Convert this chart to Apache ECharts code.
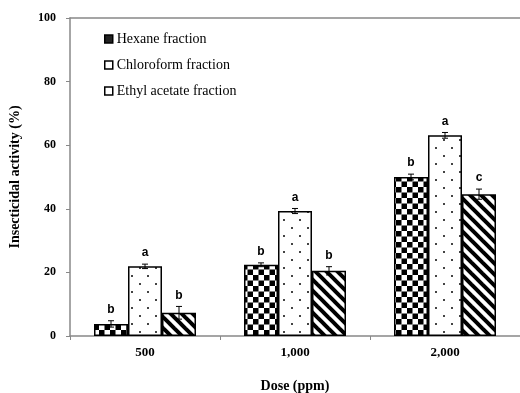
<!DOCTYPE html>
<html><head><meta charset="utf-8">
<script src="https://cdn.jsdelivr.net/npm/echarts@6/dist/echarts.min.js"></script>
<style>html,body{margin:0;padding:0;background:#fff}#c{width:520px;height:393px}</style>
</head><body><div id="c"></div>
<script>
var categories = ['500', '1,000', '2,000'];
var seriesNames = ['Hexane fraction', 'Chloroform fraction', 'Ethyl acetate fraction'];
var hexane = [3.8, 22.4, 50.0];
var chloroform = [21.9, 39.3, 63.1];
var ethyl = [7.3, 20.5, 44.6];
var hexaneErr = [1.0, 0.6, 0.9];
var chloroformErr = [0.7, 0.8, 0.9];
var ethylErr = [2.0, 1.3, 1.6];
var hexaneLetters = ['b', 'b', 'b'];
var chloroformLetters = ['a', 'a', 'a'];
var ethylLetters = ['b', 'b', 'c'];
var yTicks = [0, 20, 40, 60, 80, 100];

function mk(w, h, draw) { var c = document.createElement('canvas'); c.width = w; c.height = h; var g = c.getContext('2d'); draw(g); return c; }
var checker = mk(11, 11, function (g) { g.fillStyle = '#fff'; g.fillRect(0, 0, 11, 11); g.fillStyle = '#000'; g.fillRect(0, 0, 5.5, 5.5); g.fillRect(5.5, 5.5, 5.5, 5.5); });
var dots = mk(16, 16, function (g) { g.fillStyle = '#fff'; g.fillRect(0, 0, 16, 16); g.fillStyle = '#444'; g.fillRect(3, 3, 2, 2); g.fillRect(11, 11, 2, 2); });
var stripes = mk(11, 11, function (g) { g.fillStyle = '#fff'; g.fillRect(0, 0, 11, 11); g.strokeStyle = '#000'; g.lineWidth = 4; for (var k = -1; k <= 1; k++) { g.beginPath(); g.moveTo(k * 11 - 2, -2); g.lineTo(k * 11 + 13, 13); g.stroke(); } });
var patterns = [checker, dots, stripes];
var values = [hexane, chloroform, ethyl];
var errs = [hexaneErr, chloroformErr, ethylErr];
var letters = [hexaneLetters, chloroformLetters, ethylLetters];

var BW = 34;
var serif = 'Liberation Serif, Times New Roman, serif';
var chart = echarts.init(document.getElementById('c'));
var series = [];
for (var s = 0; s < 3; s++) {
  series.push({
    name: seriesNames[s], type: 'bar', barWidth: BW, barGap: '0%',
    data: values[s],
    itemStyle: { color: { image: patterns[s], repeat: 'repeat' }, borderColor: '#000', borderWidth: 1.5 },
    emphasis: { disabled: true }
  });
}
var errData = [];
for (var s2 = 0; s2 < 3; s2++) for (var i = 0; i < 3; i++) errData.push([i, values[s2][i], errs[s2][i], s2, letters[s2][i]]);
series.push({
  type: 'custom', data: errData, z: 10, silent: true,
  renderItem: function (params, api) {
    var ci = api.value(0), v = api.value(1), e = api.value(2), si = api.value(3);
    var lt = errData[params.dataIndex][4];
    var off = (si - 1) * BW;
    var top = api.coord([ci, v + e]), bot = api.coord([ci, v - e]);
    var x = top[0] + off;
    return { type: 'group', children: [
      { type: 'line', shape: { x1: x, y1: top[1], x2: x, y2: bot[1] }, style: { stroke: '#000', lineWidth: 1 } },
      { type: 'line', shape: { x1: x - 3, y1: top[1], x2: x + 3, y2: top[1] }, style: { stroke: '#000', lineWidth: 1 } },
      { type: 'line', shape: { x1: x - 3, y1: bot[1], x2: x + 3, y2: bot[1] }, style: { stroke: '#000', lineWidth: 1 } },
      { type: 'text', x: x, y: top[1] - 5, style: { text: lt, fill: '#000', font: 'bold 12px Liberation Sans, Arial, sans-serif', align: 'center', verticalAlign: 'bottom' } }
    ] };
  }
});

chart.setOption({
  animation: false,
  grid: { left: 70, right: 0, top: 18, bottom: 57, containLabel: false, outerBoundsMode: 'none' },
  legend: {
    orient: 'vertical', left: 104, top: 32, padding: 0, itemGap: 12, itemWidth: 8, itemHeight: 8, icon: 'rect',
    textStyle: { fontFamily: serif, fontSize: 14, color: '#000', padding: [0, 0, 0, -1] },
    data: [
      { name: seriesNames[0], itemStyle: { color: '#222', borderColor: '#000', borderWidth: 1.5 } },
      { name: seriesNames[1], itemStyle: { color: '#fff', borderColor: '#000', borderWidth: 1.5 } },
      { name: seriesNames[2], itemStyle: { color: '#fff', borderColor: '#000', borderWidth: 1.5 } }
    ]
  },
  xAxis: [{
    type: 'category', data: categories, name: 'Dose (ppm)', nameLocation: 'middle', nameGap: 43,
    nameTextStyle: { fontFamily: serif, fontSize: 14, fontWeight: 'bold', color: '#000' },
    axisLine: { lineStyle: { color: '#888', width: 1.5 } },
    axisTick: { show: true, length: 4, alignWithLabel: false, lineStyle: { color: '#888' } },
    axisLabel: { fontFamily: serif, fontSize: 13, fontWeight: 'bold', color: '#000', margin: 10 }
  }, {
    type: 'category', data: categories, position: 'top',
    axisLine: { show: true, lineStyle: { color: '#888', width: 1.5 } },
    axisTick: { show: false }, axisLabel: { show: false }
  }],
  yAxis: {
    type: 'value', min: 0, max: 100, interval: 20,
    name: 'Insecticidal activity (%)', nameLocation: 'middle', nameGap: 48,
    nameTextStyle: { fontFamily: serif, fontSize: 14, fontWeight: 'bold', color: '#000' },
    axisLine: { show: true, lineStyle: { color: '#888', width: 1.5 } },
    axisTick: { show: true, length: 4, lineStyle: { color: '#888' } },
    splitLine: { show: false },
    axisLabel: { fontFamily: serif, fontSize: 12, fontWeight: 'bold', color: '#000', margin: 14,
      formatter: function (v) { return yTicks.indexOf(v) >= 0 ? String(v) : ''; } }
  },
  series: series
});
</script></body></html>
